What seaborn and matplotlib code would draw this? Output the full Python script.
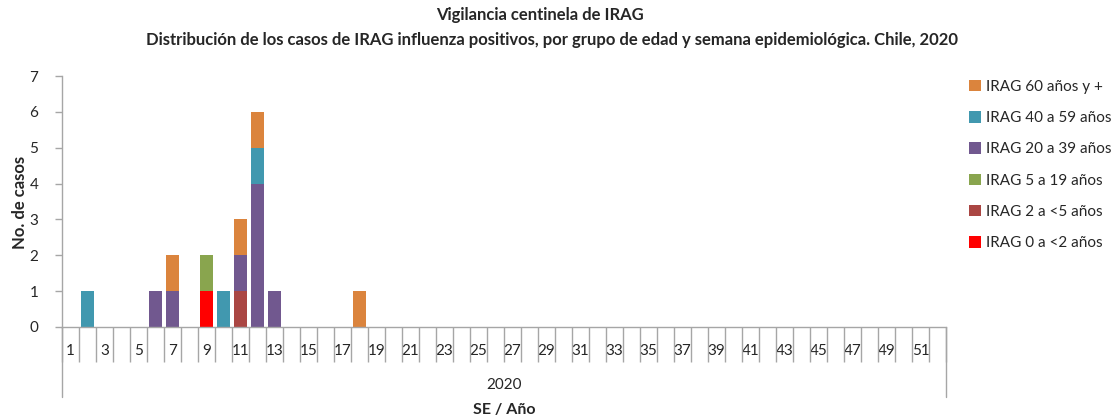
import numpy as np
import pandas as pd
import matplotlib
matplotlib.use('Agg')
import matplotlib.pyplot as plt
import seaborn as sns
from matplotlib.patches import Patch

# semanas epidemiologicas 1..52
semanas = list(range(1, 53))

# casos por grupo de edad (una entrada por semana)
irag_0_2 = [0, 0, 0, 0, 0, 0, 0, 0, 1, 0, 0, 0, 0] + [0] * 39
irag_2_5 = [0, 0, 0, 0, 0, 0, 0, 0, 0, 0, 1, 0, 0] + [0] * 39
irag_5_19 = [0, 0, 0, 0, 0, 0, 0, 0, 1, 0, 0, 0, 0] + [0] * 39
irag_20_39 = [0, 0, 0, 0, 0, 1, 1, 0, 0, 0, 1, 4, 1] + [0] * 39
irag_40_59 = [0, 1, 0, 0, 0, 0, 0, 0, 0, 1, 0, 1, 0] + [0] * 39
irag_60 = [0, 0, 0, 0, 0, 0, 1, 0, 0, 0, 1, 1, 0, 0, 0, 0, 0, 1] + [0] * 34

grupos = ['IRAG 0 a <2 años', 'IRAG 2 a <5 años', 'IRAG 5 a 19 años',
          'IRAG 20 a 39 años', 'IRAG 40 a 59 años', 'IRAG 60 años y +']
colores = ['#FF0000', '#AA4643', '#89A54E', '#71588F', '#4198AF', '#DB843D']

df = pd.DataFrame({'semana': semanas})
for g, v in zip(grupos, [irag_0_2, irag_2_5, irag_5_19, irag_20_39, irag_40_59, irag_60]):
    df[g] = v

sns.set_theme(style='white')
plt.rcParams['font.family'] = ['Lato', 'DejaVu Sans']

fig = plt.figure(figsize=(11.15, 4.2), dpi=100)
ax = fig.add_axes([62 / 1115, 1 - 327 / 420, (946 - 62) / 1115, (327 - 76) / 420])

gris = '#A6A6A6'
# stacked bars: draw cumulative totals from top of stack down
for i in range(len(grupos) - 1, -1, -1):
    cum = df[grupos[:i + 1]].sum(axis=1)
    sns.barplot(x=df['semana'], y=cum, color=colores[i], saturation=1,
                width=0.72, linewidth=0, ax=ax, order=semanas)

ax.set_xlim(-0.5, 51.5)
ax.set_ylim(0, 7)
ax.set_yticks(range(8))
ax.set_xticks(range(52))
ax.set_xticklabels([str(s) if s % 2 == 1 else '' for s in semanas], fontsize=11)
ax.set_xticks(np.arange(-0.5, 52, 1), minor=True)
ax.tick_params(axis='x', which='major', length=0, pad=12, bottom=True)
ax.tick_params(axis='x', which='minor', length=25, color=gris, width=1, direction='out', bottom=True)
ax.tick_params(axis='y', length=5, color=gris, width=1, direction='out', left=True, labelsize=11, pad=12)

for s in ['top', 'right']:
    ax.spines[s].set_visible(False)
for s in ['left', 'bottom']:
    ax.spines[s].set_color(gris)
    ax.spines[s].set_linewidth(1)

# second level of the category axis (year)
ybot = -(397 - 327) / 251
for xx in [0, 1]:
    ax.plot([xx, xx], [0, ybot], transform=ax.transAxes, color=gris, lw=1, clip_on=False)
ax.text(0.5, -(385 - 327) / 251, '2020', transform=ax.transAxes, ha='center', va='center', fontsize=11)
ax.text(0.5, -(410 - 327) / 251, 'SE / Año', transform=ax.transAxes, ha='center', va='center',
        fontsize=11.5, fontweight='bold')

ax.set_xlabel('')
ax.set_ylabel('')
fig.text(20 / 1115, 1 - 202 / 420, 'No. de casos', rotation=90, ha='center', va='center',
         fontsize=12, fontweight='bold')

fig.text(540 / 1115, 1 - 15 / 420, 'Vigilancia centinela de IRAG', ha='center', va='center',
         fontsize=12, fontweight='bold')
fig.text(552 / 1115, 1 - 40 / 420,
         'Distribución de los casos de IRAG influenza positivos, por grupo de edad y semana epidemiológica. Chile, 2020',
         ha='center', va='center', fontsize=12, fontweight='bold')

handles = [Patch(facecolor=colores[i], edgecolor='none', label=grupos[i]) for i in range(5, -1, -1)]
fig.legend(handles=handles, loc='upper left', bbox_to_anchor=(955 / 1115, 1 - 66 / 420),
           frameon=False, fontsize=11, handlelength=0.8, handleheight=0.8,
           handletextpad=0.35, labelspacing=1.12)

fig.savefig('out.png', dpi=100)
